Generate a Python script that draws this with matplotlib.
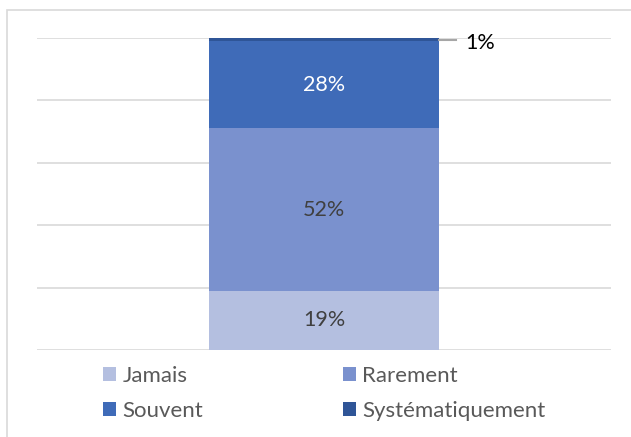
import matplotlib
matplotlib.use("Agg")
import matplotlib.pyplot as plt
from matplotlib.patches import Rectangle

# data
categories = ["Jamais", "Rarement", "Souvent", "Systématiquement"]
values = [19, 52, 28, 1]
labels = ["19%", "52%", "28%", "1%"]
colors = ["#B4BFE0", "#7A91CE", "#3F6BB8", "#2F5597"]
label_colors = ["#404040", "#404040", "white", "black"]

plt.rcParams['font.family'] = ['Lato', 'DejaVu Sans']

W, H = 631, 437
fig = plt.figure(figsize=(W / 100, H / 100), dpi=100)
fig.patch.set_facecolor("white")

# chart area border (cut at right/bottom in the reference)
fig.patches.append(Rectangle((7 / W, -0.1), 1.2, 1 - 10 / H + 0.1, transform=fig.transFigure,
                             fill=False, edgecolor="#D9D9D9", lw=1.2))

ax = fig.add_axes([37 / W, 1 - 350 / H, 574 / W, 312 / H])
ax.set_xlim(-0.5, 0.5)
ax.set_ylim(0, 100)
ax.set_yticks(range(0, 101, 20))
ax.yaxis.grid(True, color="#D9D9D9", lw=1.2)
ax.set_axisbelow(True)
ax.tick_params(left=False, bottom=False, labelleft=False, labelbottom=False)
for s in ax.spines.values():
    s.set_visible(False)

bottom = 0
bars = []
for cat, v, lab, c, lc in zip(categories, values, labels, colors, label_colors):
    b = ax.bar(0, v, width=0.4, bottom=bottom, color=c, label=cat, zorder=2)
    bars.append(b)
    if v > 5:
        ax.text(0, bottom + v / 2, lab, ha="center", va="center", color=lc, fontsize=15.5)
    else:
        # leader line + outside label
        ax.plot([0.2, 0.2 + 17 / 574], [bottom + v / 2, bottom + v / 2], color="#A6A6A6", lw=1.5,
                clip_on=False, zorder=3)
        ax.text(0.2 + 26 / 574, bottom + v / 2 - 1, lab, ha="left", va="center", color=lc, fontsize=15.5)
    bottom += v

order = [0, 2, 1, 3]
handles = [bars[i] for i in order]
names = [categories[i] for i in order]
fig.legend(handles, names, ncol=2, loc="upper left", bbox_to_anchor=(103 / W, 1 - 366 / H),
           frameon=False, fontsize=16, handlelength=0.6, handleheight=0.6, handletextpad=0.27,
           columnspacing=6.3, labelspacing=0.66, borderpad=0, borderaxespad=0,
           labelcolor="#595959")

fig.savefig("out.png", dpi=100, facecolor="white")
